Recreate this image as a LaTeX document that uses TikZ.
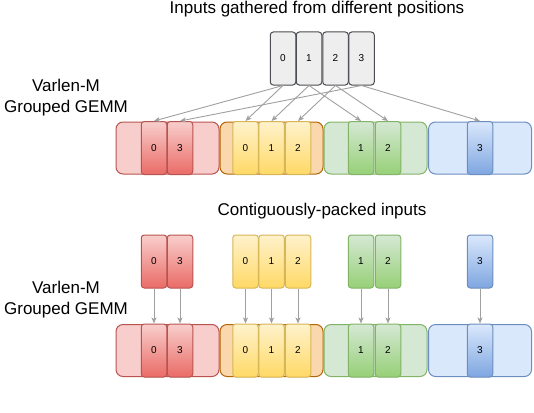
\documentclass[tikz,border=0pt]{standalone}
\usepackage{fontspec}
\setmainfont{Liberation Sans}
\usetikzlibrary{arrows.meta}
\definecolor{grayfill}{HTML}{EEEEEE}
\definecolor{graydraw}{HTML}{4A4D52}
\definecolor{redlight}{HTML}{F8CECC}
\definecolor{reddark}{HTML}{EA6B66}
\definecolor{reddraw}{HTML}{B85450}
\definecolor{orafill}{HTML}{FAD7AC}
\definecolor{oradraw}{HTML}{B46504}
\definecolor{yellight}{HTML}{FFF2CC}
\definecolor{yeldark}{HTML}{FFD966}
\definecolor{yeldraw}{HTML}{D6B656}
\definecolor{grnlight}{HTML}{D5E8D4}
\definecolor{grndark}{HTML}{97D077}
\definecolor{grndraw}{HTML}{82B366}
\definecolor{blulight}{HTML}{DAE8FC}
\definecolor{bludark}{HTML}{7EA6E0}
\definecolor{bludraw}{HTML}{6C8EBF}
\definecolor{arrowgray}{HTML}{A0A0A0}
\begin{document}
\begin{tikzpicture}[x=1pt,y=-1pt,
  cell/.style={draw, line width=1pt, rounded corners=3pt, minimum width=25.5pt, minimum height=53pt,
    inner sep=0pt, font=\fontsize{10}{12}\selectfont},
  group/.style={draw, line width=1pt, rounded corners=7pt, minimum width=103pt, minimum height=52pt, inner sep=0pt},
  gcell/.style={cell, fill=grayfill, draw=graydraw},
  rcell/.style={cell, top color=redlight, bottom color=reddark, draw=reddraw},
  ycell/.style={cell, top color=yellight, bottom color=yeldark, draw=yeldraw},
  ccell/.style={cell, top color=grnlight, bottom color=grndark, draw=grndraw},
  bcell/.style={cell, top color=blulight, bottom color=bludark, draw=bludraw},
  title/.style={font=\fontsize{17}{20.5}\selectfont, align=center, inner sep=0pt},
  feed/.style={draw=arrowgray, line width=0.9pt, ->, >={Stealth[length=6pt,width=5pt,inset=1.5pt]}}]
\useasboundingbox (0,0) rectangle (534,412);

% gathered inputs
\node[title] (t1) at (317,9) {Inputs gathered from different positions};
\node[title] (l1) at (66,97.5) {Varlen-M\\Grouped GEMM};

\node[gcell] (g0) at (283,58.5) {0};
\node[gcell] (g1) at (309,58.5) {1};
\node[gcell] (g2) at (335.5,58.5) {2};
\node[gcell] (g3) at (361.5,58.5) {3};

\node[group, fill=redlight, draw=reddraw] (ra) at (167.5,148) {};
\node[group, fill=orafill, draw=oradraw] (oa) at (271.5,148) {};
\node[group, fill=grnlight, draw=grndraw] (ca) at (375.5,148) {};
\node[group, fill=blulight, draw=bludraw] (ba) at (480,148) {};

\node[rcell] (ra0) at (154,148) {0};
\node[rcell] (ra3) at (180,148) {3};
\node[ycell] (ya0) at (245.5,148) {0};
\node[ycell] (ya1) at (271.5,148) {1};
\node[ycell] (ya2) at (298,148) {2};
\node[ccell] (ca1) at (361,148) {1};
\node[ccell] (ca2) at (388,148) {2};
\node[bcell] (ba3) at (480,148) {3};

\path[feed] (g0.south) -- (ra0.north);
\path[feed] (g0.south) -- (ya0.north);
\path[feed] (g1.south) -- (ya1.north);
\path[feed] (g1.south) -- (ca1.north);
\path[feed] (g2.south) -- (ya2.north);
\path[feed] (g2.south) -- (ca2.north);
\path[feed] (g3.south) -- (ra3.north);
\path[feed] (g3.south) -- (ba3.north);

% packed inputs
\node[title] (t2) at (322,211) {Contiguously-packed inputs};
\node[title] (l2) at (66,299.5) {Varlen-M\\Grouped GEMM};

\node[rcell] (p0) at (154,261.5) {0};
\node[rcell] (p1) at (180,261.5) {3};
\node[ycell] (p2) at (245.5,261.5) {0};
\node[ycell] (p3) at (271.5,261.5) {1};
\node[ycell] (p4) at (298,261.5) {2};
\node[ccell] (p5) at (361,261.5) {1};
\node[ccell] (p6) at (388,261.5) {2};
\node[bcell] (p7) at (480,261.5) {3};

\node[group, fill=redlight, draw=reddraw] (rb) at (167.5,350.5) {};
\node[group, fill=orafill, draw=oradraw] (ob) at (271.5,350.5) {};
\node[group, fill=grnlight, draw=grndraw] (cb) at (375.5,350.5) {};
\node[group, fill=blulight, draw=bludraw] (bb) at (480,350.5) {};

\node[rcell] (q0) at (154,350.5) {0};
\node[rcell] (q1) at (180,350.5) {3};
\node[ycell] (q2) at (245.5,350.5) {0};
\node[ycell] (q3) at (271.5,350.5) {1};
\node[ycell] (q4) at (298,350.5) {2};
\node[ccell] (q5) at (361,350.5) {1};
\node[ccell] (q6) at (388,350.5) {2};
\node[bcell] (q7) at (480,350.5) {3};

\path[feed] (p0) -- (q0);
\path[feed] (p1) -- (q1);
\path[feed] (p2) -- (q2);
\path[feed] (p3) -- (q3);
\path[feed] (p4) -- (q4);
\path[feed] (p5) -- (q5);
\path[feed] (p6) -- (q6);
\path[feed] (p7) -- (q7);
\end{tikzpicture}
\end{document}
